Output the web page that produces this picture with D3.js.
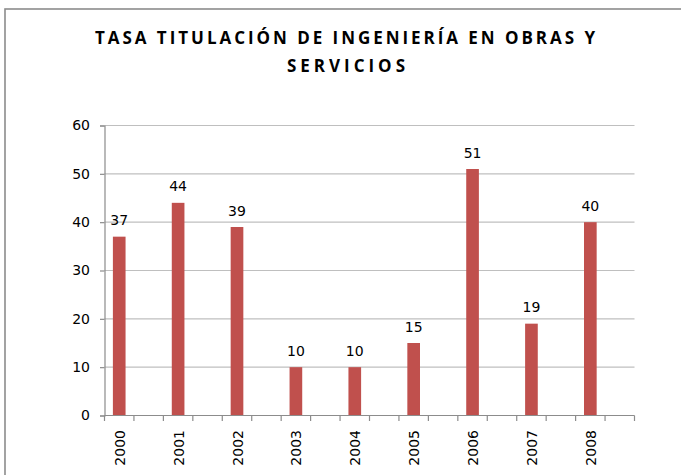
<!DOCTYPE html>
<html>
<head>
<meta charset="utf-8">
<script src="https://cdn.jsdelivr.net/npm/d3@7"></script>
<style>
  html, body { margin: 0; padding: 0; background: #fff; }
  svg { display: block; }
</style>
</head>
<body>
<svg id="chart" width="681" height="475"></svg>
<script>
// Graduation rate by year
const years = ["2000", "2001", "2002", "2003", "2004", "2005", "2006", "2007", "2008"];
const values = [37, 44, 39, 10, 10, 15, 51, 19, 40];
const yTicks = [0, 10, 20, 30, 40, 50, 60];
const titleLines = ["TASA TITULACIÓN DE INGENIERÍA EN OBRAS Y", "SERVICIOS"];

// Each year is followed by an empty slot on the category axis
const slots = [];
years.forEach((y, i) => { slots.push(y); slots.push("_gap" + i); });

const svg = d3.select("#chart");
const plot = { left: 104.5, right: 634.5, top: 125.5, bottom: 415.5 };

// Chart frame
svg.append("rect")
  .attr("x", 5).attr("y", 9)
  .attr("width", 700).attr("height", 500)
  .attr("fill", "#fff")
  .attr("stroke", "#8c8c8c")
  .attr("stroke-width", 1.6);

// Title
const title = svg.append("g")
  .attr("font-family", "'Open Sans', sans-serif")
  .attr("font-weight", "bold")
  .attr("font-size", 17)
  .attr("fill", "#000");
title.append("text")
  .attr("x", 345).attr("y", 44)
  .attr("text-anchor", "middle")
  .attr("textLength", 500).attr("lengthAdjust", "spacing")
  .text(titleLines[0]);
title.append("text")
  .attr("x", 346).attr("y", 72)
  .attr("text-anchor", "middle")
  .attr("textLength", 118).attr("lengthAdjust", "spacing")
  .text(titleLines[1]);

const x = d3.scaleBand().domain(slots).range([plot.left, plot.right]).padding(0);
const y = d3.scaleLinear().domain([0, 60]).range([plot.bottom, plot.top]);

// Horizontal gridlines
svg.append("g")
  .selectAll("line")
  .data(yTicks.filter(t => t > 0))
  .join("line")
  .attr("x1", plot.left).attr("x2", plot.right)
  .attr("y1", d => y(d)).attr("y2", d => y(d))
  .attr("stroke", "#bfbfbf")
  .attr("stroke-width", 1.2);

// Y axis
const yAxis = svg.append("g")
  .attr("transform", `translate(${plot.left},0)`)
  .call(d3.axisLeft(y).tickValues(yTicks).tickSize(4.5).tickPadding(10));
yAxis.select(".domain").attr("stroke", "#8c8c8c").attr("stroke-width", 1.2);
yAxis.selectAll(".tick line").attr("stroke", "#8c8c8c").attr("stroke-width", 1.2);
yAxis.selectAll(".tick text")
  .attr("font-family", "'DejaVu Sans', sans-serif")
  .attr("font-size", 14)
  .attr("fill", "#000");

// Bars
const barW = x.bandwidth() * 0.43;
svg.append("g")
  .selectAll("rect")
  .data(values)
  .join("rect")
  .attr("x", (d, i) => x(years[i]) + (x.bandwidth() - barW) / 2)
  .attr("width", barW)
  .attr("y", d => y(d))
  .attr("height", d => y(0) - y(d))
  .attr("fill", "#c0504d");

// Value labels
svg.append("g")
  .selectAll("text")
  .data(values)
  .join("text")
  .attr("x", (d, i) => x(years[i]) + x.bandwidth() / 2)
  .attr("y", d => y(d) - 11.5)
  .attr("text-anchor", "middle")
  .attr("font-family", "'DejaVu Sans', sans-serif")
  .attr("font-size", 14)
  .attr("fill", "#000")
  .text(d => d);

// X axis: tick marks on every slot boundary
const bounds = slots.map(s => x(s)).concat([plot.right]);
const xAxis = svg.append("g");
xAxis.append("line")
  .attr("x1", plot.left).attr("x2", plot.right)
  .attr("y1", plot.bottom).attr("y2", plot.bottom)
  .attr("stroke", "#8c8c8c").attr("stroke-width", 1.2);
xAxis.selectAll("line.tk")
  .data(bounds)
  .join("line")
  .attr("class", "tk")
  .attr("x1", d => d).attr("x2", d => d)
  .attr("y1", plot.bottom).attr("y2", plot.bottom + 5.5)
  .attr("stroke", "#8c8c8c").attr("stroke-width", 1.2);
xAxis.selectAll("text")
  .data(years)
  .join("text")
  .attr("transform", d => `translate(${x(d) + x.bandwidth() / 2 + 0.5},430) rotate(-90)`)
  .attr("text-anchor", "end")
  .attr("dy", "0.36em")
  .attr("font-family", "'DejaVu Sans', sans-serif")
  .attr("font-size", 14)
  .attr("fill", "#000")
  .text(d => d);
</script>
</body>
</html>
